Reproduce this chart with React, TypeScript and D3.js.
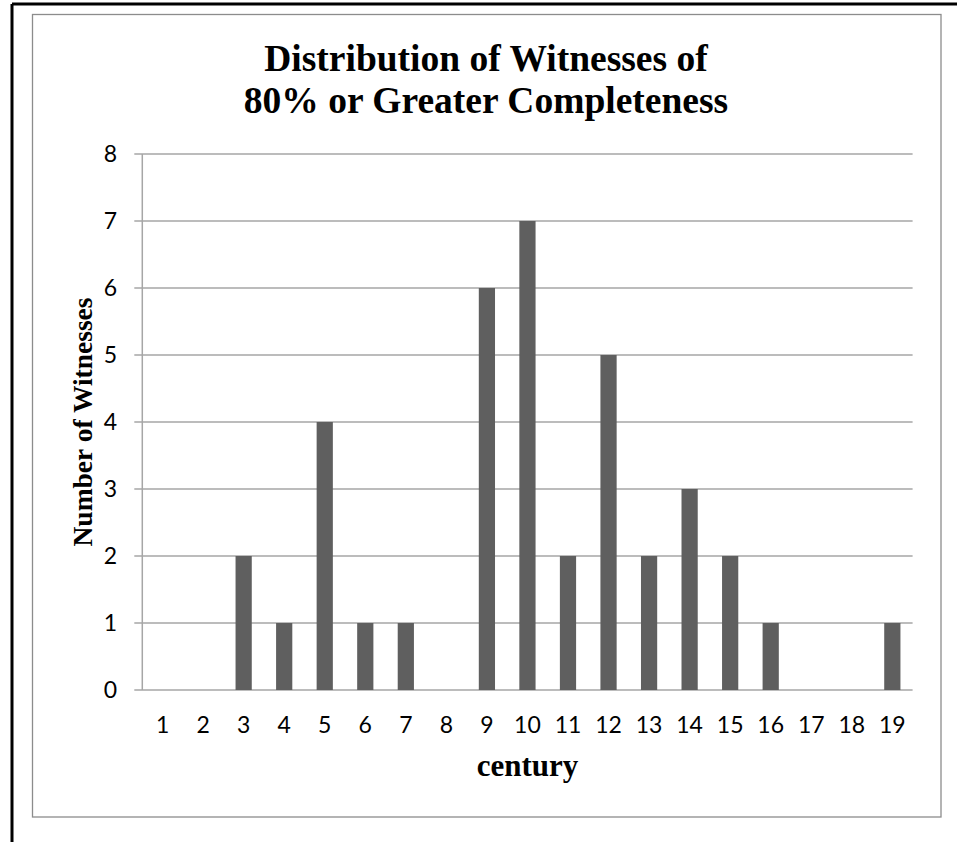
import React from "react";
import * as d3 from "d3";

const centuries = ["1","2","3","4","5","6","7","8","9","10","11","12","13","14","15","16","17","18","19"];
const counts = [0,0,2,1,4,1,1,0,6,7,2,5,2,3,2,1,0,0,1];
const yTicks = [0,1,2,3,4,5,6,7,8];
const titleLines = ["Distribution of Witnesses of", "80% or Greater Completeness"];
const xTitle = "century";
const yTitle = "Number of Witnesses";

export default function App() {
  const W = 957, H = 842;
  const left = 142.3, right = 912.6, top = 154, bottom = 690;
  const x = d3.scaleBand<string>().domain(centuries).range([left, right]).paddingInner(0.6).paddingOuter(0.3);
  const y = d3.scaleLinear().domain([0, 8]).range([bottom, top]);
  const serif = "'Liberation Serif', 'Times New Roman', serif";
  const sans = "Lato, Carlito, Calibri, sans-serif";
  const grid = "#a6a6a6";
  return (
    <svg width={W} height={H} style={{ position: "absolute", left: 0, top: 0, background: "#fff" }}>
      <rect x={0} y={0} width={W} height={H} fill="#fff" />
      {/* page border */}
      <line x1={12} y1={4} x2={W} y2={4} stroke="#000" strokeWidth={3} />
      <line x1={12} y1={4} x2={12} y2={H} stroke="#000" strokeWidth={3} />
      {/* chart area */}
      <rect x={32.5} y={14.5} width={908.5} height={802.5} fill="#fff" stroke="#8c8c8c" strokeWidth={1.3} />
      {/* title */}
      {titleLines.map((t, i) => (
        <text key={i} x={486} y={71 + i * 42} textAnchor="middle" fontFamily={serif} fontWeight="bold" fontSize={37.5} fill="#000">{t}</text>
      ))}
      {/* gridlines and y ticks */}
      {yTicks.map((v) => (
        <g key={v}>
          <line x1={left - 8} x2={right} y1={y(v)} y2={y(v)} stroke={grid} strokeWidth={1.5} />
          <text x={117} y={y(v) + 8} textAnchor="end" fontFamily={sans} fontSize={23} fill="#000">{v}</text>
        </g>
      ))}
      {/* y axis */}
      <line x1={left} x2={left} y1={top} y2={bottom} stroke={grid} strokeWidth={1.5} />
      {/* bars */}
      {centuries.map((c, i) => (
        counts[i] > 0 ? (
          <rect key={c} x={x(c)} y={y(counts[i])} width={x.bandwidth()} height={y(0) - y(counts[i])} fill="#5f5f5f" />
        ) : null
      ))}
      {/* x labels */}
      {centuries.map((c) => (
        <text key={c} x={(x(c) as number) + x.bandwidth() / 2} y={733} textAnchor="middle" fontFamily={sans} fontSize={23} fill="#000">{c}</text>
      ))}
      <text x={(left + right) / 2} y={776} textAnchor="middle" fontFamily={serif} fontWeight="bold" fontSize={31} fill="#000">{xTitle}</text>
      <text transform={`translate(${92},${(top + bottom) / 2}) rotate(-90)`} textAnchor="middle" fontFamily={serif} fontWeight="bold" fontSize={27.5} fill="#000">{yTitle}</text>
    </svg>
  );
}
